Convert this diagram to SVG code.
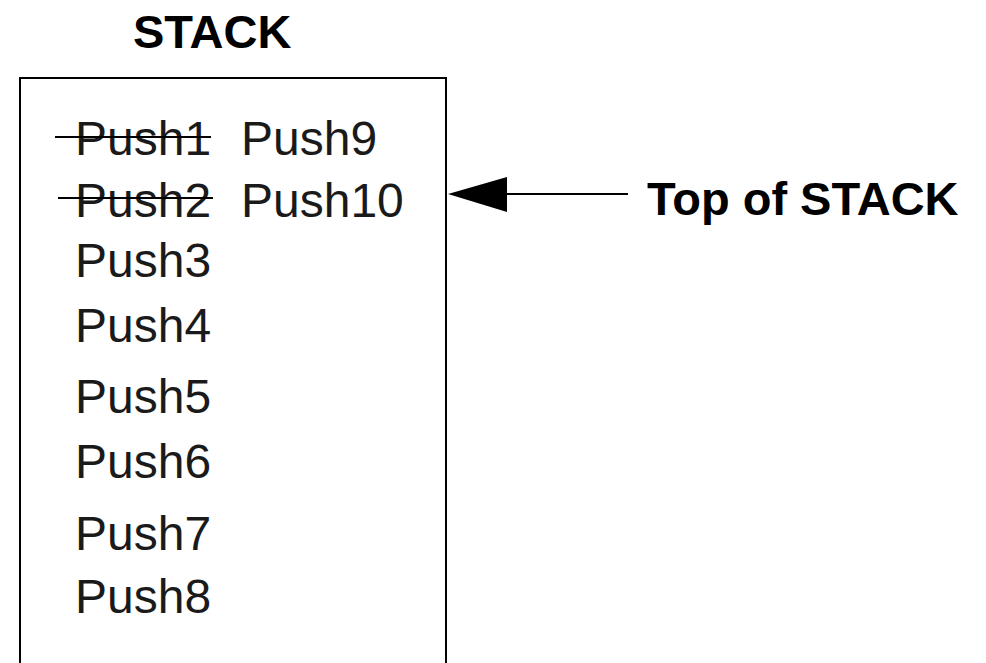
<svg xmlns="http://www.w3.org/2000/svg" width="986" height="663" viewBox="0 0 986 663">
<style>
.t{font-family:"Liberation Sans",Arial,sans-serif;font-size:48px;fill:#1a1a1a}
.b{font-family:"Liberation Sans",Arial,sans-serif;font-size:47px;font-weight:bold;fill:#000}
.strike{stroke:#000;stroke-width:2}
</style>
<rect width="986" height="663" fill="#fff"/>
<g id="title"><text class="b" x="133" y="48">STACK</text></g>
<g id="stack">
<rect x="20" y="78" width="426" height="620" fill="none" stroke="#000" stroke-width="2"/>
<text class="t" x="75" y="155">Push1</text>
<line class="strike" x1="55" y1="137" x2="211" y2="137"/>
<text class="t" x="75" y="217">Push2</text>
<line class="strike" x1="58" y1="198" x2="213" y2="198"/>
<text class="t" x="241" y="155">Push9</text>
<text class="t" x="241" y="217">Push10</text>
<text class="t" x="75" y="277">Push3</text>
<text class="t" x="75" y="342">Push4</text>
<text class="t" x="75" y="413">Push5</text>
<text class="t" x="75" y="478">Push6</text>
<text class="t" x="75" y="550">Push7</text>
<text class="t" x="75" y="613">Push8</text>
</g>
<g id="label"><text class="b" x="647" y="215">Top of STACK</text></g>
<g id="connectors">
<line x1="628" y1="194" x2="500" y2="194" stroke="#000" stroke-width="2"/>
<polygon points="448,194 507,177 507,212" fill="#000"/>
</g>
</svg>
